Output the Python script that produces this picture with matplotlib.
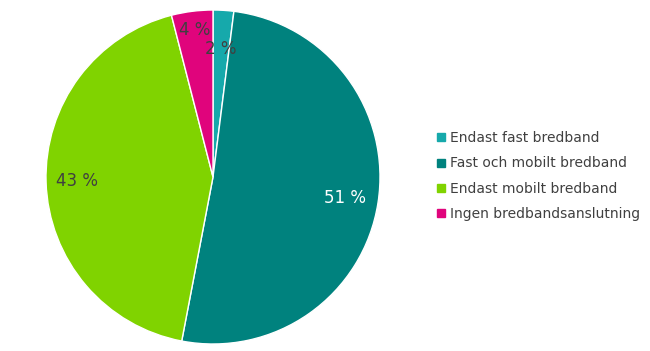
import numpy as np
import matplotlib
matplotlib.use("Agg")
import matplotlib.pyplot as plt
from matplotlib.lines import Line2D

labels = ["Endast fast bredband", "Fast och mobilt bredband",
          "Endast mobilt bredband", "Ingen bredbandsanslutning"]
values = [2, 51, 43, 4]
colors = ["#16A9AB", "#00827E", "#80D300", "#E0047C"]
label_dist = [0.77, 0.80, 0.815, 0.89]
label_color = ["#404040", "white", "#404040", "#404040"]

fig = plt.figure(figsize=(6.5, 3.51), dpi=100)
ax = fig.add_axes([46 / 650, 7 / 351, 334 / 650, 334 / 351])
wedges, _ = ax.pie(values, colors=colors, startangle=90, counterclock=False,
                   wedgeprops=dict(edgecolor="white", linewidth=1))
ax.set_xlim(-1, 1)
ax.set_ylim(-1, 1)
ax.set_aspect("equal")

for w, v, d, c in zip(wedges, values, label_dist, label_color):
    mid = np.deg2rad((w.theta1 + w.theta2) / 2)
    ax.text(d * np.cos(mid), d * np.sin(mid), f"{v} %", ha="center", va="center",
            fontsize=12, color=c)

handles = [Line2D([], [], marker="s", ls="none", markersize=5.5, color=c) for c in colors]
fig.legend(handles, labels, loc="center left", bbox_to_anchor=(422 / 650, 175 / 351),
           frameon=False, fontsize=10, handletextpad=0.1, labelspacing=0.8,
           handlelength=1.0, labelcolor="#404040")

fig.savefig("out.png", dpi=100)
